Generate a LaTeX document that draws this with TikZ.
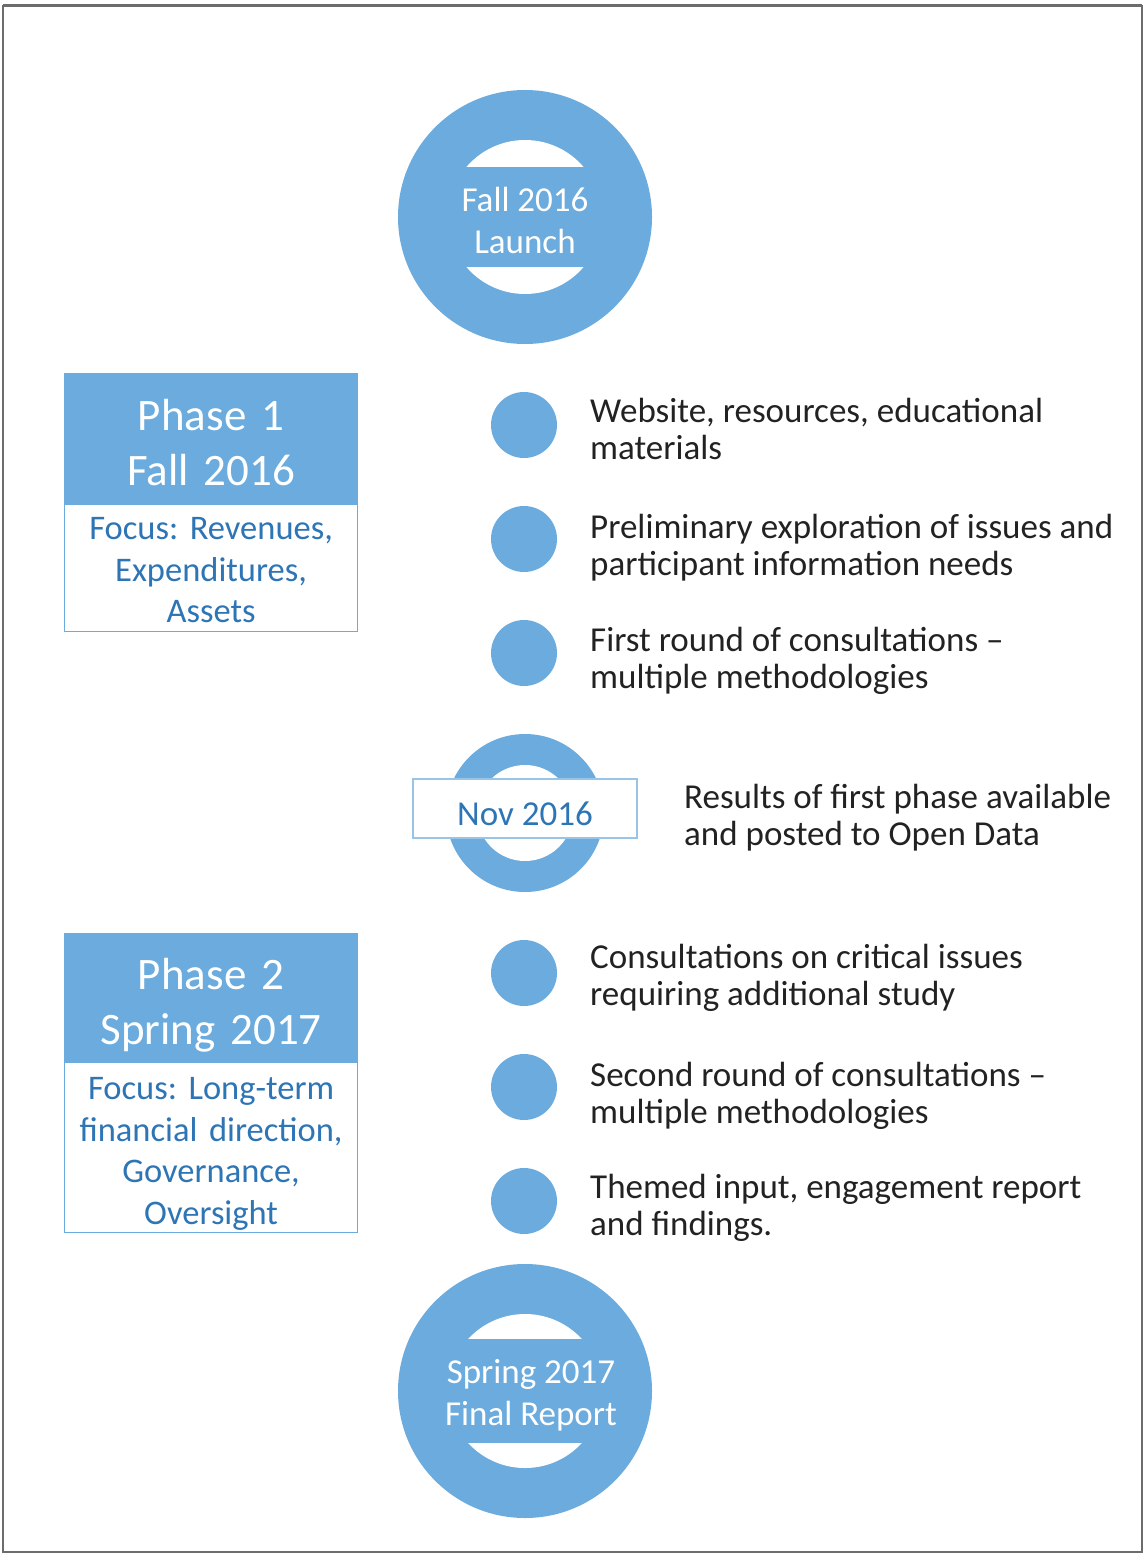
\documentclass[tikz,border=0pt]{standalone}
\usepackage{fontspec}
\setmainfont{Carlito}
\usetikzlibrary{positioning}
\definecolor{TlBlue}{HTML}{6BABDD}
\definecolor{TlDark}{HTML}{2E75B6}
\definecolor{TlText}{HTML}{222222}
\frenchspacing

\begin{document}
\begin{tikzpicture}[
  x=1pt,y=-1pt,
  bigdot/.style={circle,fill=TlBlue,minimum size=254,inner sep=0pt},
  ringtxt/.style={text=white,align=center,font=\fontsize{35}{42}\selectfont},
  dot/.style={circle,fill=TlBlue,minimum size=66,inner sep=0pt},
  item/.style={text=TlText,align=left,inner sep=0pt,anchor=west,
               font=\fontsize{35}{37.2}\selectfont},
  head/.style={fill=TlBlue,draw=TlBlue,line width=1.2pt,text=white,align=center,
               minimum width=293,text width=280,inner sep=0pt,
               font=\fontsize{45}{55}\selectfont},
  focus/.style={draw=TlBlue,line width=1.2pt,fill=white,text=TlDark,align=center,
                minimum width=293,text width=285,inner sep=0pt,
                font=\fontsize{34.5}{41.5}\selectfont},
]
\useasboundingbox (0,0) rectangle (1145,1554);
\draw[gray!85!black,line width=2pt] (3,6) rectangle (1142,1552);
\draw[gray!85!black,line width=3pt] (3,5.5) -- (1142,5.5);

% launch ring
\node[bigdot] (launch) at (525,217) {};
\fill[white] (launch.center) circle[radius=77];
\fill[TlBlue] ([shift={(-80,-50)}]launch.center) rectangle ([shift={(80,50)}]launch.center);
\node[ringtxt] (launchtxt) at ([yshift=-3]launch.center) {Fall 2016\\Launch};

% phase 1
\node[head,minimum height=130,anchor=north west] (ph1) at (64,373) {};
\node[head,fill=none,draw=none] (ph1t) at ([yshift=-4]ph1.center) {Phase 1\\Fall 2016};
\node[focus,minimum height=127,below=0pt of ph1] (ph1f) {};
\node[focus,fill=none,draw=none] (ph1ft) at ([yshift=-2]ph1f.center)
  {Focus: Revenues,\\Expenditures,\\Assets};

\node[dot] (d1) at (524,425) {};
\node[item] (t1) at (590,429) {Website, resources, educational\\materials};
\node[dot] (d2) at (524,539) {};
\node[item] (t2) at (590,548) {Preliminary exploration of issues and\\participant information needs};
\node[dot] (d3) at (524,653) {};
\node[item] (t3) at (590,661) {First round of consultations --\\multiple methodologies};

% mid-point ring
\node[circle,fill=TlBlue,minimum size=158,inner sep=0pt] (nov) at (525,813) {};
\fill[white] (nov.center) circle[radius=48];
\node[draw=TlBlue!70,line width=1.2pt,fill=white,minimum width=224,
      minimum height=59,inner sep=0pt] (novbox) at (525,808.5) {};
\node[text=TlDark,font=\fontsize{35}{42}\selectfont] (novtxt) at ([yshift=-5]novbox.center) {Nov 2016};
\node[item] (tn) at (684,818) {Results of first phase available\\and posted to Open Data};

% phase 2
\node[head,minimum height=128,anchor=north west] (ph2) at (64,933) {};
\node[head,fill=none,draw=none] (ph2t) at ([yshift=-8]ph2.center) {Phase 2\\Spring 2017};
\node[focus,minimum height=170,below=0pt of ph2] (ph2f) {};
\node[focus,fill=none,draw=none] (ph2ft) at ([yshift=-6]ph2f.center)
  {Focus: Long-term\\financial direction,\\Governance,\\Oversight};

\node[dot] (d4) at (524,973) {};
\node[item] (t4) at (590,978) {Consultations on critical issues\\requiring additional study};
\node[dot] (d5) at (524,1087) {};
\node[item] (t5) at (590,1096) {Second round of consultations --\\multiple methodologies};
\node[dot] (d6) at (524,1201) {};
\node[item] (t6) at (590,1208) {Themed input, engagement report\\and findings.};

% final ring
\node[bigdot] (final) at (525,1391) {};
\fill[white] (final.center) circle[radius=77];
\fill[TlBlue] ([shift={(-80,-52)}]final.center) rectangle ([shift={(80,52)}]final.center);
\node[ringtxt] (finaltxt) at ([xshift=6,yshift=-4]final.center) {Spring 2017\\Final Report};
\end{tikzpicture}
\end{document}
